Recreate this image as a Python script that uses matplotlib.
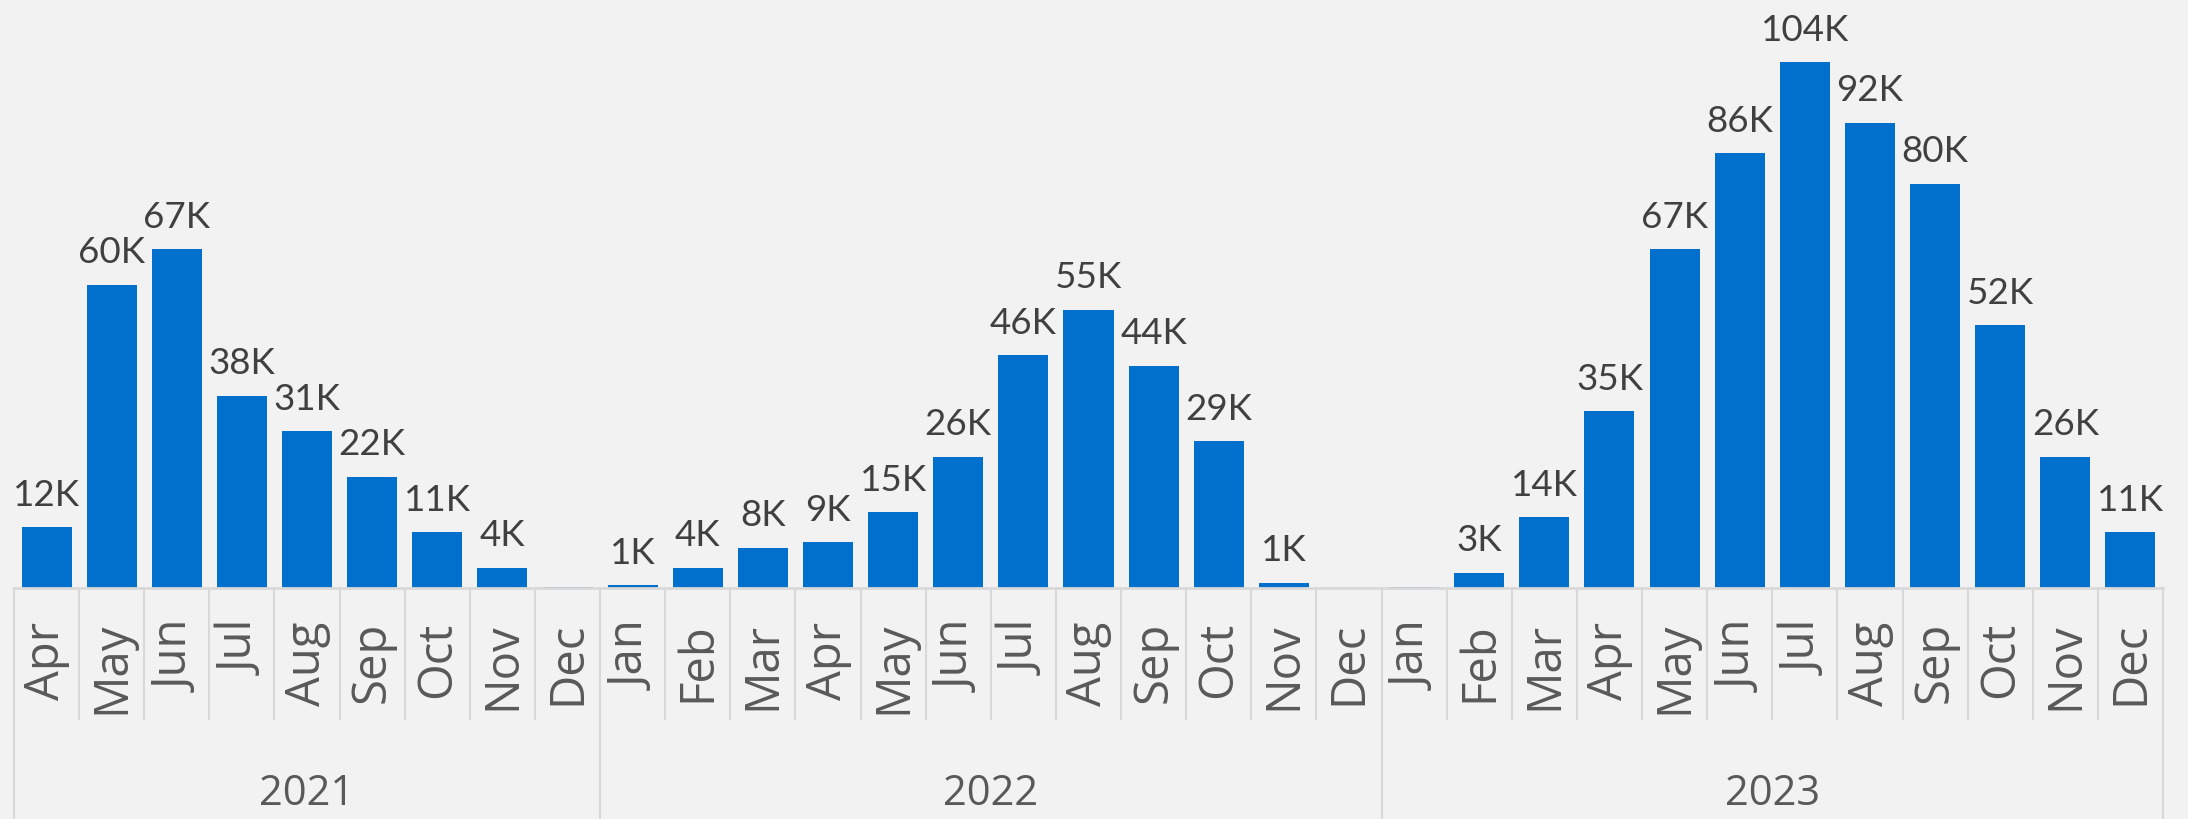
import matplotlib
matplotlib.use("Agg")
import matplotlib.pyplot as plt
import matplotlib.transforms as mtransforms

# ---- data ----
years = ["2021", "2022", "2023"]
months_2021 = ["Apr", "May", "Jun", "Jul", "Aug", "Sep", "Oct", "Nov", "Dec"]
months_2022 = ["Jan", "Feb", "Mar", "Apr", "May", "Jun", "Jul", "Aug", "Sep", "Oct", "Nov", "Dec"]
months_2023 = ["Jan", "Feb", "Mar", "Apr", "May", "Jun", "Jul", "Aug", "Sep", "Oct", "Nov", "Dec"]

values_2021 = [12, 60, 67, 38, 31, 22, 11, 4, 0.15]
values_2022 = [0.5, 4, 8, 9, 15, 26, 46, 55, 44, 29, 1, 0]
values_2023 = [0.1, 3, 14, 35, 67, 86, 104, 92, 80, 52, 26, 11]

labels_2021 = ["12K", "60K", "67K", "38K", "31K", "22K", "11K", "4K", ""]
labels_2022 = ["1K", "4K", "8K", "9K", "15K", "26K", "46K", "55K", "44K", "29K", "1K", ""]
labels_2023 = ["", "3K", "14K", "35K", "67K", "86K", "104K", "92K", "80K", "52K", "26K", "11K"]

months = months_2021 + months_2022 + months_2023
values = values_2021 + values_2022 + values_2023
labels = labels_2021 + labels_2022 + labels_2023
group_sizes = [len(months_2021), len(months_2022), len(months_2023)]

# ---- style ----
BG = "#F2F2F2"
BAR = "#0070CC"
GRID = "#D9D9D9"
LABEL_C = "#404040"
AXIS_TXT = "#595959"

W, H = 2188, 819
fig = plt.figure(figsize=(W / 100, H / 100), dpi=100, facecolor=BG)
zero_px = 588
left_px, right_px = 14, 2163
ax = fig.add_axes([left_px / W, 1 - zero_px / H, (right_px - left_px) / W, zero_px / H])
ax.set_facecolor(BG)
n = len(months)
x = list(range(n))
ax.set_xlim(-0.5, n - 0.5)
ax.set_ylim(0, 116.3)
for s in ax.spines.values():
    s.set_visible(False)
ax.set_xticks([])
ax.set_yticks([])

bars = ax.bar(x, values, width=0.768, color=BAR, zorder=2)

for xi, v, lab in zip(x, values, labels):
    if lab:
        ax.annotate(lab, (xi, v), xytext=(0, 15.5), textcoords="offset points",
                    ha="center", va="baseline", fontsize=26.5, color=LABEL_C,
                    family="Lato")

trans = mtransforms.blended_transform_factory(ax.transData, ax.transAxes)

def frac(px):
    return (zero_px - px) / zero_px

# axis line
ax.plot([-0.5, n - 0.5], [0, 0], transform=trans, color=GRID, lw=2, clip_on=False, zorder=3)

# separators
group_edges = [0]
for g in group_sizes:
    group_edges.append(group_edges[-1] + g)
for i in range(n + 1):
    bottom = frac(819) if i in group_edges else frac(719)
    ax.plot([i - 0.5, i - 0.5], [0, bottom], transform=trans, color=GRID, lw=1.5,
            clip_on=False, zorder=1)

# month labels
for xi, m in zip(x, months):
    ax.text(xi, frac(622), m, transform=trans, rotation=90, ha="center", va="top",
            fontsize=34, color=AXIS_TXT, family="Open Sans")

# year labels
for gi, yr in enumerate(years):
    c = (group_edges[gi] + group_edges[gi + 1] - 1) / 2
    ax.text(c, frac(794), yr, transform=trans, ha="center", va="center",
            fontsize=30, color=AXIS_TXT, family="Open Sans")

fig.savefig("out.png", dpi=100, facecolor=BG)
